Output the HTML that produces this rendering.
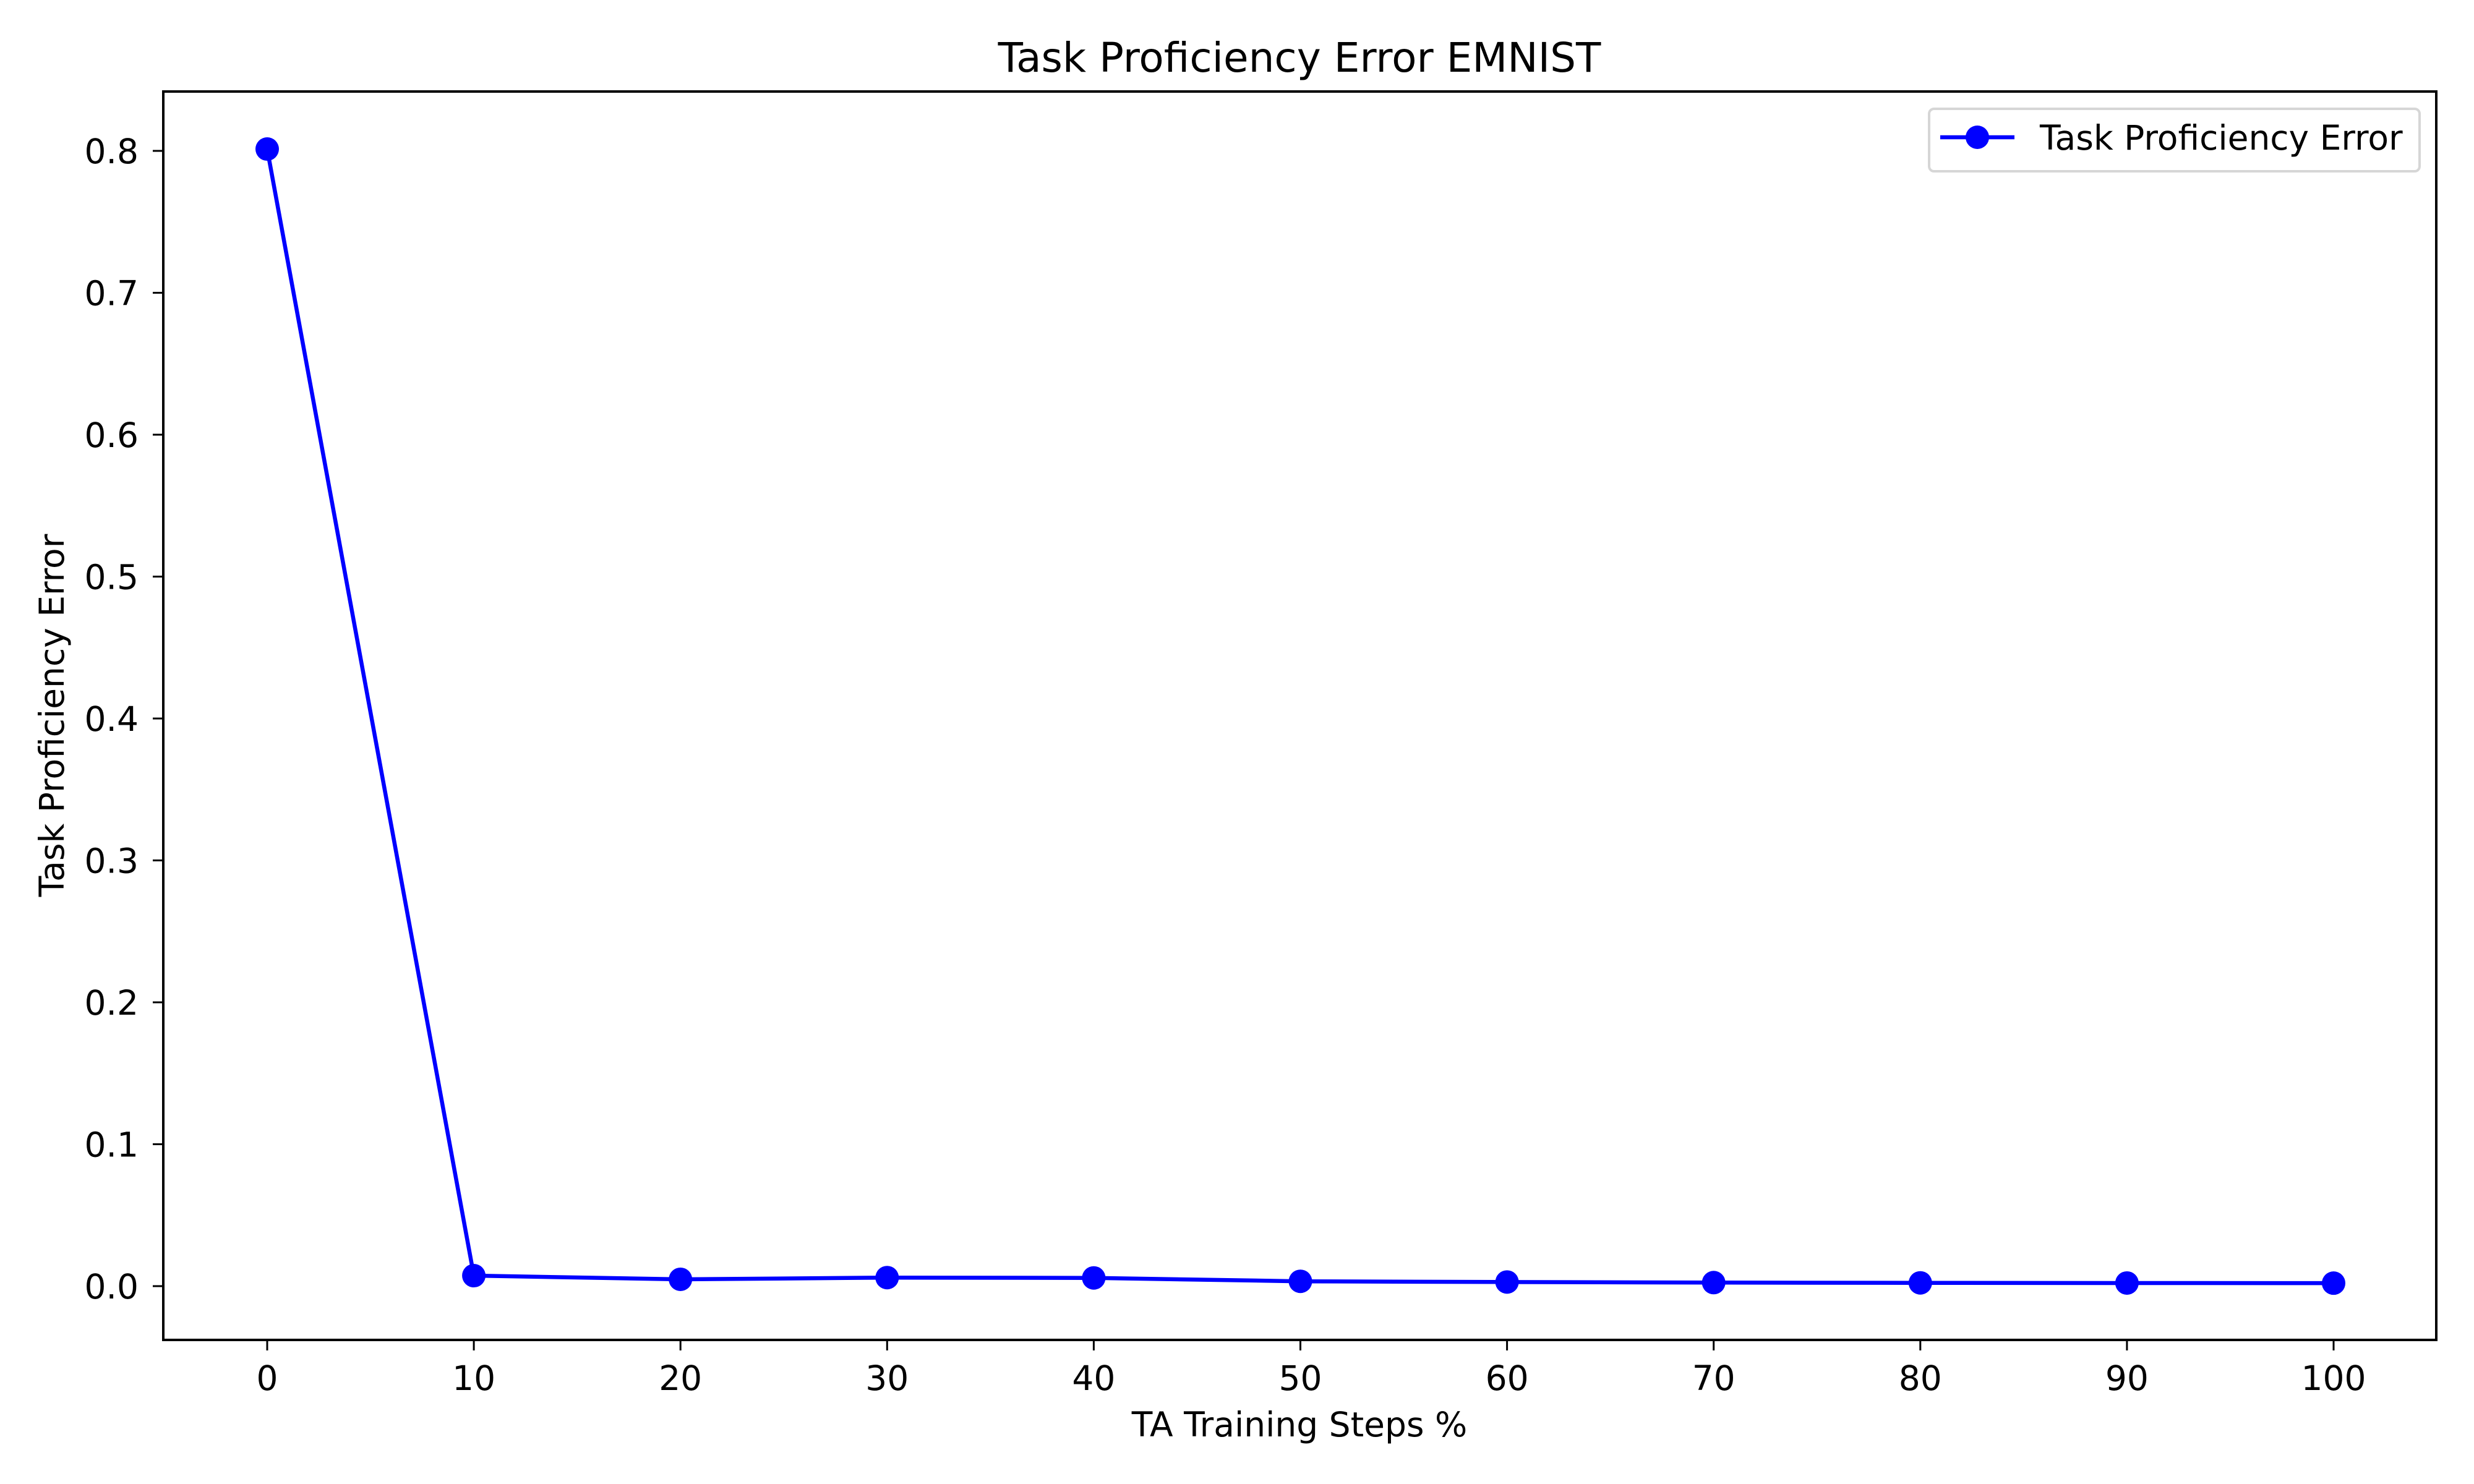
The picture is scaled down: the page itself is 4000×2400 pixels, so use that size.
<!DOCTYPE html>
<html><head><meta charset="utf-8"><style>
html,body{margin:0;padding:0;background:#fff;}
svg{display:block;font-family:"DejaVu Sans","Liberation Sans",sans-serif;}
</style></head><body>
<svg id="chart" width="4000" height="2400" viewBox="0 0 4000 2400" xmlns="http://www.w3.org/2000/svg">
<rect width="4000" height="2400" fill="#fff"/>
<text x="2101" y="116" font-size="66" text-anchor="middle">Task Proficiency Error EMNIST</text>
<g id="ticks"></g>
<g id="series"></g>
<rect x="264" y="148" width="3675" height="2019" fill="none" stroke="#000" stroke-width="4"/>
<text x="2101" y="2323" font-size="55" text-anchor="middle">TA Training Steps %</text>
<text x="0" y="0" font-size="55" text-anchor="middle" transform="translate(103,1157) rotate(-90)">Task Proficiency Error</text>
<g>
<rect x="3119" y="176" width="793" height="101" rx="8" fill="#fff" stroke="#d6d6d6" stroke-width="4"/>
<line x1="3137" y1="222" x2="3257" y2="222" stroke="#0000ff" stroke-width="6.5"/>
<ellipse cx="3197" cy="222" rx="19" ry="19" fill="#0000ff"/>
<text x="3298" y="242" font-size="55">Task Proficiency Error</text>
</g>
</svg>
<script>
const xValues = [0, 10, 20, 30, 40, 50, 60, 70, 80, 90, 100];
const errValues = [0.8013, 0.0074, 0.0048, 0.006, 0.0058, 0.0034, 0.0029, 0.0025, 0.0023, 0.0022, 0.0021];
const xTickLabels = ["0","10","20","30","40","50","60","70","80","90","100"];
const yTickValues = [0.0,0.1,0.2,0.3,0.4,0.5,0.6,0.7,0.8];
const yTickLabels = ["0.0","0.1","0.2","0.3","0.4","0.5","0.6","0.7","0.8"];

const NS = "http://www.w3.org/2000/svg";
function xs(v){ return 432 + (v - 0) * 33.41; }
function ys(v){ return 2080 - v * 2295; }
function mk(tag, attrs){ const e = document.createElementNS(NS, tag); for (const k in attrs) e.setAttribute(k, attrs[k]); return e; }

const ticks = document.getElementById('ticks');
xTickLabels.forEach((lab, i) => {
  const x = xs(xValues[i]);
  const t = mk('line', {x1:x, y1:2167, x2:x, y2:2184, stroke:'#000', 'stroke-width':3});
  
  
  ticks.appendChild(t);
  const tx = mk('text', {x:x, y:2248, 'font-size':55, 'text-anchor':'middle'});
  tx.textContent = lab;
  
  
  ticks.appendChild(tx);
});
yTickValues.forEach((v, i) => {
  const y = ys(v);
  const t = mk('line', {x1:247, y1:y, x2:264, y2:y, stroke:'#000', 'stroke-width':3});
  
  
  ticks.appendChild(t);
  const tx = mk('text', {x:224, y:y + 20, 'font-size':55, 'text-anchor':'end'});
  tx.textContent = yTickLabels[i];
  
  
  ticks.appendChild(tx);
});

const series = document.getElementById('series');
const pts = xValues.map((x, i) => xs(x) + ',' + ys(errValues[i])).join(' ');
const pl = mk('polyline', {points:pts, fill:'none', stroke:'#0000ff', 'stroke-width':6.5, 'stroke-linejoin':'round'});


series.appendChild(pl);
xValues.forEach((x, i) => {
  const c = mk('circle', {cx:xs(x), cy:ys(errValues[i]), r:19, fill:'#0000ff'});
  
  
  series.appendChild(c);
});
</script>
</body></html>
